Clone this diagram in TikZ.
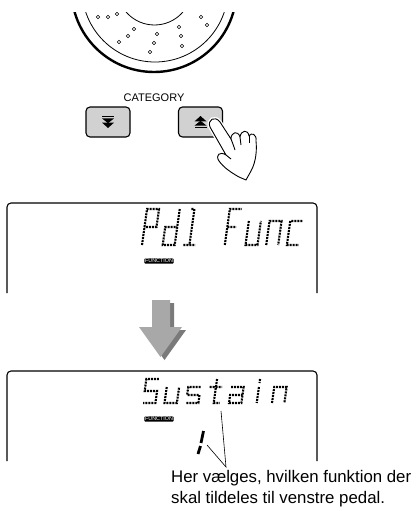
\documentclass[tikz,border=0pt]{standalone}
\usepackage{fontspec}
\setmainfont{Liberation Sans}
\usetikzlibrary{calc}

\definecolor{keygray}{gray}{0.82}
\definecolor{arrowbody}{gray}{0.66}
\definecolor{arrowshade}{gray}{0.48}

\tikzset{
  lcd/.style={line width=2.1pt, dash pattern=on 2pt off 1pt},
  bigglyph/.style={shift={(#1,245)}, x={(3pt,0pt)}, y={(0.84pt,6pt)}},
  smallglyph/.style={shift={(#1,403)}, x={(3.1pt,0pt)}, y={(0.56pt,4pt)}},
  keybox/.style={draw, line width=1.1pt, fill=keygray, rounded corners=4pt,
    minimum width=44pt, minimum height=30pt, inner sep=0pt},
  badge/.style={fill=black, text=white, rounded corners=1pt, inner sep=0.7pt,
    font=\fontsize{5.4}{5.4}\selectfont},
  screen/.style={line width=1.1pt, rounded corners=4pt},
  handline/.style={line width=0.9pt, line join=round}
}

\begin{document}
\begin{tikzpicture}[x=1pt, y=-1pt]
    \useasboundingbox (0,0) rectangle (417,511);

    % Dial, cut off at the top
    \begin{scope}
        \clip (0,13) rectangle (417,100);
        \draw[line width=2.4pt] (154,-10.5) circle (82.5pt);
        \draw[line width=0.8pt] (155,-11) circle (73pt);
        \draw[line width=0.8pt] (154.5,-12.5) circle (37.5pt);
        \draw[line width=0.5pt]
            (98,17) circle (1.7pt) (108,17) circle (1.7pt) (117,14) circle (1.7pt)
            (134,29) circle (1.7pt) (128,36) circle (1.7pt) (119,42) circle (1.7pt)
            (157,34) circle (1.7pt) (154,43) circle (1.7pt) (150,52) circle (1.7pt)
            (179,27) circle (1.7pt) (181,36) circle (1.7pt) (182,46) circle (1.7pt)
            (201,17) circle (1.7pt) (207,25) circle (1.7pt);
    \end{scope}

    % Category buttons
    \node[font=\fontsize{11}{11}\selectfont] (catlabel) at (154,98) {CATEGORY};
    \node[keybox] (catdown) at (108,122) {};
    \node[keybox] (catup) at (200.5,122) {};

    % Double arrow marks on the buttons
    \fill ($(catdown.center)+(-6,-6.2)$) rectangle ($(catdown.center)+(6,-4.8)$);
    \fill ($(catdown.center)+(-6,-3.6)$) -- ($(catdown.center)+(6,-3.6)$)
        -- ($(catdown.center)+(0,1.2)$) -- cycle;
    \fill ($(catdown.center)+(-6,0.6)$) -- ($(catdown.center)+(6,0.6)$)
        -- ($(catdown.center)+(0,6)$) -- cycle;
    \fill ($(catup.center)+(-6,6.2)$) rectangle ($(catup.center)+(6,4.8)$);
    \fill ($(catup.center)+(-6,3.6)$) -- ($(catup.center)+(6,3.6)$)
        -- ($(catup.center)+(0,-1.2)$) -- cycle;
    \fill ($(catup.center)+(-6,-0.6)$) -- ($(catup.center)+(6,-0.6)$)
        -- ($(catup.center)+(0,-6)$) -- cycle;

    % Hand pressing the up button
    \draw[handline, fill=white, preaction={draw=white, line width=3.6pt}]
        (210,127) .. controls (207,120) and (215,115) .. (220,122)
        -- (231,139)
        .. controls (231,132) and (238,130) .. (240,137)
        .. controls (241,130) and (248,129) .. (249,136)
        .. controls (251,132) and (257,134) .. (256,141)
        .. controls (257,150) and (256,162) .. (251,171)
        -- (246,180) -- (239,177)
        .. controls (232,173) and (224,168) .. (219,161)
        .. controls (215,155) and (220,151) .. (226,155)
        -- cycle;
    \draw[handline] (231,139) .. controls (233,144) and (234,147) .. (235,150);
    \draw[handline] (240,137) -- (241,145);
    \draw[handline] (249,136) -- (249,143);
    \draw[handline] (226,155) -- (231,159);

    % First screen
    \draw[screen] (7,293) -- (7,203) -- (317,203) -- (317,293);
    \draw[lcd, bigglyph=142] (0,0) -- (0,6) -- (4,6) -- (4,3) -- (0,3);
    \draw[lcd, bigglyph=162.7] (4,6) -- (4,0) -- (0,0) -- (0,3) -- (4,3);
    \draw[lcd, bigglyph=183.4] (1,6) -- (2,6) -- (2,0) (0,0) -- (4,0);
    \draw[lcd, bigglyph=224.8] (0,0) -- (0,6) -- (4,6) (0,3) -- (3,3);
    \draw[lcd, bigglyph=245.5] (0,4) -- (0,0) -- (4,0) -- (4,4);
    \draw[lcd, bigglyph=266.2] (0,0) -- (0,4) -- (4,4) -- (4,0);
    \draw[lcd, bigglyph=286.9] (4,4) -- (0,4) -- (0,0) -- (4,0);
    \node[badge] (funcone) at (159,261) {FUNCTION};

    % Grey arrow between the screens
    \fill[arrowshade] (156,303) -- (174,303) -- (174,330) -- (186,330)
        -- (164.5,360) -- (143,330) -- (156,330) -- cycle;
    \fill[arrowbody] (152,300) -- (170,300) -- (170,327) -- (182,327)
        -- (160.5,357) -- (139,327) -- (152,327) -- cycle;

    % Second screen
    \draw[screen] (7,461) -- (7,371) -- (317,371) -- (317,461);
    \draw[lcd, smallglyph=143] (4,6) -- (0,6) -- (0,3) -- (4,3) -- (4,0) -- (0,0);
    \draw[lcd, smallglyph=164.5] (0,4) -- (0,0) -- (4,0) -- (4,4);
    \draw[lcd, smallglyph=186] (4,4) -- (0,4) -- (0,2) -- (4,2) -- (4,0) -- (0,0);
    \draw[lcd, smallglyph=207.5] (2,6) -- (2,0) -- (4,0) (0,4) -- (4,4);
    \draw[lcd, smallglyph=229] (0,4) -- (4,4) -- (4,0) -- (0,0) -- (0,2) -- (4,2);
    \draw[lcd, smallglyph=250.5] (2,4) -- (2,0) (2,6) -- (2,5);
    \draw[lcd, smallglyph=272] (0,0) -- (0,4) -- (4,4) -- (4,0);
    \node[badge] (functwo) at (159,419) {FUNCTION};
    \draw[line width=2.8pt] (203.5,431) -- (201,443) (200.5,446) -- (198,454);

    % Pointer lines to the caption
    \coordinate (susmark) at (221,411);
    \coordinate (onemark) at (207,445);
    \coordinate (pointer) at (226,467);
    \draw[line width=0.6pt] (susmark) -- (pointer) -- (onemark);

    \node[anchor=base west, align=left, inner sep=0pt,
        font=\fontsize{16.8}{20.5}\selectfont] (caption) at (171,503)
        {Her vælges, hvilken funktion der\\skal tildeles til venstre pedal.};
\end{tikzpicture}
\end{document}
